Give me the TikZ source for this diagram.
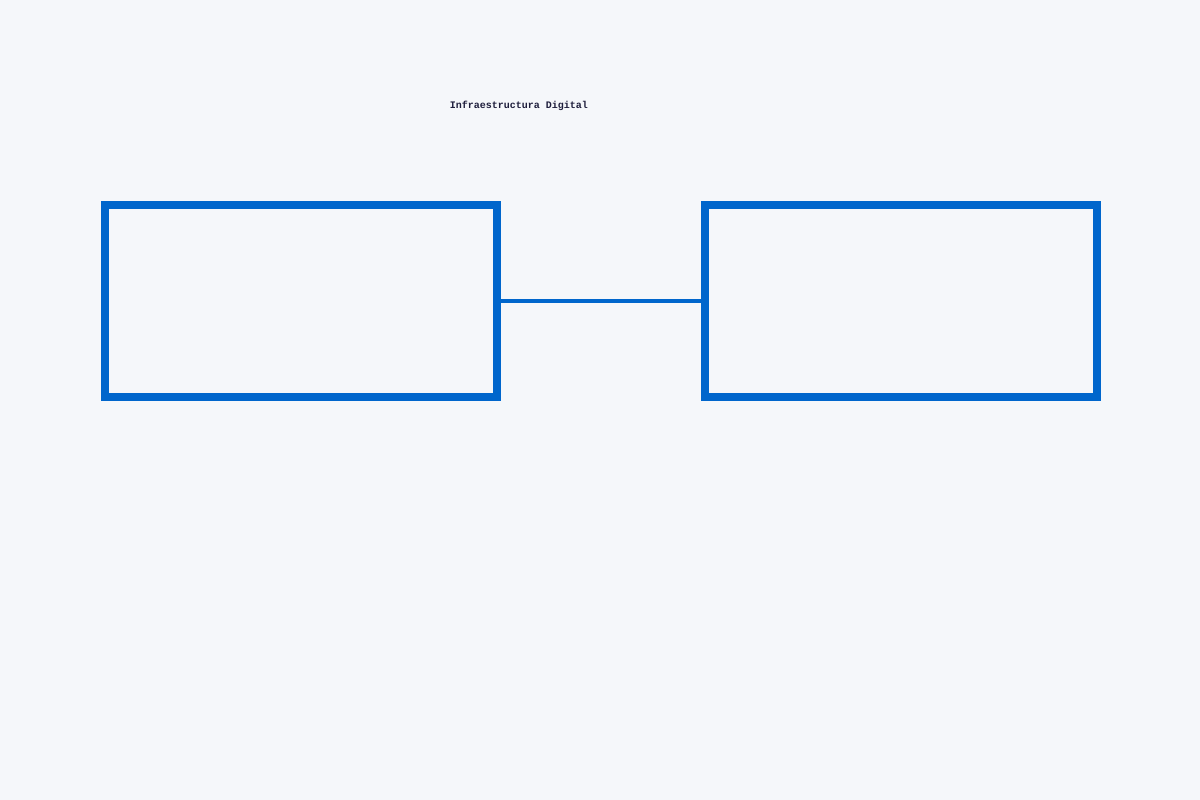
\documentclass[tikz,border=0pt]{standalone}
\usepackage{fontspec}
\setmonofont{Liberation Mono}
\usetikzlibrary{positioning}
\definecolor{infrablue}{HTML}{0066CC}
\definecolor{pagebg}{HTML}{F5F7FA}
\definecolor{titleink}{HTML}{1E1E3C}

\begin{document}
\begin{tikzpicture}[x=1pt,y=-1pt,
  block/.style={draw=infrablue, line width=8pt, minimum width=392pt, minimum height=192pt, inner sep=0pt},
  link/.style={draw=infrablue, line width=4pt}]
% Background
\fill[pagebg] (0,0) rectangle (1200,800);
\useasboundingbox (0,0) rectangle (1200,800);

% Title
\node[font=\ttfamily\bfseries\fontsize{10}{12}\selectfont, text=titleink] (title) at (519,106) {Infraestructura Digital};

% Blocks
\node[block] (left) at (300.5,300.5) {};
\node[block, right=200pt of left] (right) {};

% Link between blocks
\draw[link] (left) -- (right);
\end{tikzpicture}
\end{document}
